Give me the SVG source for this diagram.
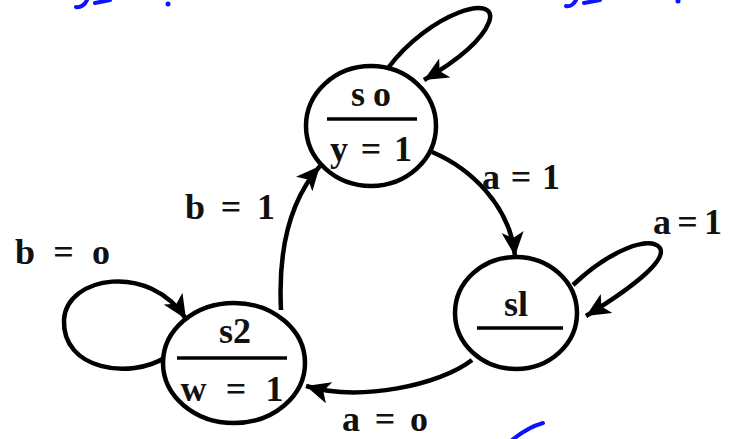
<svg xmlns="http://www.w3.org/2000/svg" width="731" height="439" viewBox="0 0 731 439">
<style>
.st{fill:#fff;stroke:#000;stroke-width:4.5}
.bar{stroke:#000;stroke-width:3.5}
.t{font-family:"Liberation Serif","DejaVu Serif",serif;font-weight:bold;font-size:36px;fill:#111}
.e{fill:none;stroke:#000;stroke-width:4.5}
.ink{fill:none;stroke:#0a14ff;stroke-width:4;stroke-linecap:round}
</style>
<defs>
<marker id="ah" markerUnits="userSpaceOnUse" markerWidth="26" markerHeight="22" refX="24" refY="11" orient="auto">
<path d="M0,0 L24,11 L0,22 L6,11 z" fill="#000"/>
</marker>
</defs>
<rect width="731" height="439" fill="#fff"/>
<g id="connectors">
<path class="e" d="M388 68 C430 12 500 -8 489 22 C480 45 448 66 424 80" marker-end="url(#ah)"/>
<path class="e" d="M432 152 C470 168 510 205 515 256" marker-end="url(#ah)"/>
<path class="e" d="M573 285 C610 250 650 235 660 248 C668 262 622 294 586 316" marker-end="url(#ah)"/>
<path class="e" d="M472 360 C440 385 360 402 306 386" marker-end="url(#ah)"/>
<path class="e" d="M166 357 C130 380 62 370 64 320 C66 276 150 262 186 319" marker-end="url(#ah)"/>
<path class="e" d="M281 310 C278 250 290 200 320 166" marker-end="url(#ah)"/>
</g>
<g id="s0">
<ellipse class="st" cx="371" cy="126" rx="65" ry="60"/>
<line class="bar" x1="327" y1="119" x2="417" y2="119"/>
<text class="t" x="371" y="106" text-anchor="middle" textLength="40" lengthAdjust="spacing">s o</text>
<text class="t" x="371" y="161" text-anchor="middle" textLength="82" lengthAdjust="spacing">y = 1</text>
</g>
<g id="s1">
<ellipse class="st" cx="516" cy="313" rx="61" ry="56"/>
<line class="bar" x1="477" y1="328" x2="563" y2="328"/>
<text class="t" x="516" y="316" text-anchor="middle">sl</text>
</g>
<g id="s2">
<ellipse class="st" cx="234" cy="363" rx="71" ry="60"/>
<line class="bar" x1="177" y1="358" x2="287" y2="358"/>
<text class="t" x="235" y="343" text-anchor="middle">s2</text>
<text class="t" x="232" y="401" text-anchor="middle" textLength="103" lengthAdjust="spacing">w = 1</text>
</g>
<g id="labels">
<text class="t" x="482" y="189" textLength="78" lengthAdjust="spacing">a = 1</text>
<text class="t" x="185" y="219" textLength="90" lengthAdjust="spacing">b = 1</text>
<text class="t" x="15" y="264" textLength="95" lengthAdjust="spacing">b = o</text>
<text class="t" x="653" y="234" textLength="69" lengthAdjust="spacing">a = 1</text>
<text class="t" x="342" y="431" textLength="86" lengthAdjust="spacing">a = o</text>
</g>
<g id="handwriting">
<path class="ink" d="M76 7 C80 8 85 5 87 0"/>
<path class="ink" d="M95 3 L110 0"/>
<circle cx="168" cy="4" r="2.5" fill="#0a14ff"/>
<path class="ink" d="M566 6 C570 7 574 4 576 0"/>
<path class="ink" d="M584 3 L600 0"/>
<circle cx="678" cy="1" r="2.5" fill="#0a14ff"/>
<path class="ink" d="M512 440 C522 432 532 426 543 423"/>
</g>
</svg>
